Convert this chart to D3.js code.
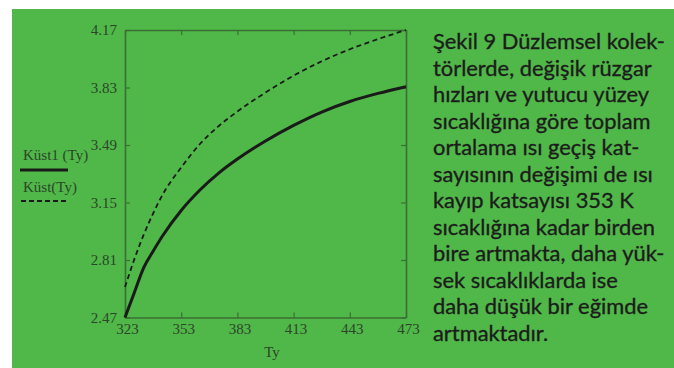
<!DOCTYPE html>
<html>
<head>
<meta charset="utf-8">
<script src="https://cdn.jsdelivr.net/npm/d3@7"></script>
<style>
  html, body { margin: 0; padding: 0; background: #ffffff; }
  svg { display: block; }
</style>
</head>
<body>
<svg id="chart" width="674" height="368"></svg>
<script>
// Absorber surface temperature Ty (K)
const tyValues = [323, 328, 333, 338, 343, 353, 363, 373, 383, 398, 413, 428, 443, 458, 473];
// Kust1(Ty): total mean heat transfer coefficient
const kust1 = [2.47, 2.618, 2.765, 2.862, 2.952, 3.103, 3.224, 3.324, 3.407, 3.514, 3.606, 3.685, 3.747, 3.795, 3.835];
// Kust(Ty)
const kust = [2.650, 2.815, 2.960, 3.085, 3.195, 3.357, 3.496, 3.602, 3.688, 3.800, 3.900, 3.985, 4.056, 4.116, 4.17];

const xTicks = [323, 353, 383, 413, 443, 473];
const yTicks = [2.47, 2.81, 3.15, 3.49, 3.83, 4.17];

const seriesNames = ["Küst1 (Ty)", "Küst(Ty)"];

const captionLines = [
  "Şekil 9 Düzlemsel kolek-",
  "törlerde, değişik rüzgar",
  "hızları ve yutucu yüzey",
  "sıcaklığına göre toplam",
  "ortalama ısı geçiş kat-",
  "sayısının değişimi de ısı",
  "kayıp katsayısı 353 K",
  "sıcaklığına kadar birden",
  "bire artmakta, daha yük-",
  "sek sıcaklıklarda ise",
  "daha düşük bir eğimde",
  "artmaktadır."
];

const svg = d3.select("#chart");

// green panel
svg.append("rect")
  .attr("x", 12).attr("y", 9)
  .attr("width", 662).attr("height", 359)
  .attr("fill", "#50b848");

const plot = { left: 125, top: 30, right: 406, bottom: 317.5 };

const x = d3.scaleLinear().domain([323, 473]).range([plot.left, plot.right]);
const y = d3.scaleLinear().domain([2.47, 4.17]).range([plot.bottom, plot.top]);

const axisColor = "#3b6e35";
const labelColor = "#2c452a";
const serif = "'Liberation Serif', 'Times New Roman', serif";

// frame with inward ticks on all four sides
const g = svg.append("g");

function styleAxis(sel) {
  sel.select(".domain").attr("stroke", axisColor).attr("stroke-width", 1.6);
  sel.selectAll(".tick line").attr("stroke", axisColor).attr("stroke-width", 1.2);
  sel.selectAll(".tick text")
    .attr("fill", labelColor)
    .style("font-family", serif)
    .style("font-size", "15px");
}

const bottomAxis = g.append("g")
  .attr("transform", `translate(0,${plot.bottom})`)
  .call(d3.axisBottom(x).tickValues(xTicks).tickFormat(d3.format("d"))
    .tickSizeInner(-5).tickSizeOuter(0).tickPadding(6));
styleAxis(bottomAxis);
bottomAxis.selectAll(".tick text").attr("dx", 2);

const topAxis = g.append("g")
  .attr("transform", `translate(0,${plot.top})`)
  .call(d3.axisTop(x).tickValues(xTicks).tickFormat("")
    .tickSizeInner(-5).tickSizeOuter(0));
styleAxis(topAxis);

const leftAxis = g.append("g")
  .attr("transform", `translate(${plot.left},0)`)
  .call(d3.axisLeft(y).tickValues(yTicks).tickFormat(d3.format(".2f"))
    .tickSizeInner(-5).tickSizeOuter(0).tickPadding(8));
styleAxis(leftAxis);

const rightAxis = g.append("g")
  .attr("transform", `translate(${plot.right},0)`)
  .call(d3.axisRight(y).tickValues(yTicks).tickFormat("")
    .tickSizeInner(-5).tickSizeOuter(0));
styleAxis(rightAxis);

// x axis title
svg.append("text")
  .attr("x", 272).attr("y", 357)
  .attr("text-anchor", "middle")
  .attr("fill", labelColor)
  .style("font-family", serif)
  .style("font-size", "15px")
  .text("Ty");

// curves
const line = d3.line()
  .x((d, i) => x(tyValues[i]))
  .y(d => y(d))
  .curve(d3.curveMonotoneX);

svg.append("path")
  .datum(kust)
  .attr("d", line)
  .attr("fill", "none")
  .attr("stroke", "#1a1a1a")
  .attr("stroke-width", 1.8)
  .attr("stroke-dasharray", "5,3.5");

svg.append("path")
  .datum(kust1)
  .attr("d", line)
  .attr("fill", "none")
  .attr("stroke", "#1a1a1a")
  .attr("stroke-width", 3);

// legend
const legend = svg.append("g");
legend.append("text")
  .attr("x", 23).attr("y", 160)
  .attr("fill", labelColor)
  .style("font-family", serif).style("font-size", "15px")
  .text(seriesNames[0]);
legend.append("line")
  .attr("x1", 20).attr("x2", 68).attr("y1", 170).attr("y2", 170)
  .attr("stroke", "#1a1a1a").attr("stroke-width", 3);
legend.append("text")
  .attr("x", 23).attr("y", 192)
  .attr("fill", labelColor)
  .style("font-family", serif).style("font-size", "15px")
  .text(seriesNames[1]);
legend.append("line")
  .attr("x1", 21).attr("x2", 66).attr("y1", 201).attr("y2", 201)
  .attr("stroke", "#1a1a1a").attr("stroke-width", 1.8)
  .attr("stroke-dasharray", "5,3");

// caption block, font size fitted so the first line spans the column
const caption = svg.append("g");
const probe = caption.append("text")
  .style("font-family", "Lato, 'Open Sans', sans-serif")
  .style("font-size", "20px")
  .text(captionLines[0]);
const w20 = probe.node().getComputedTextLength();
probe.remove();
const capSize = 20 * 232 / w20;

caption.selectAll("text")
  .data(captionLines)
  .join("text")
  .attr("x", 433)
  .attr("y", (d, i) => 49 + i * 26.5)
  .attr("fill", "#1c1c1c")
  .attr("stroke", "#1c1c1c")
  .attr("stroke-width", 0.35)
  .style("font-family", "Lato, 'Open Sans', sans-serif")
  .style("font-size", capSize + "px")
  .text(d => d);
</script>
</body>
</html>
